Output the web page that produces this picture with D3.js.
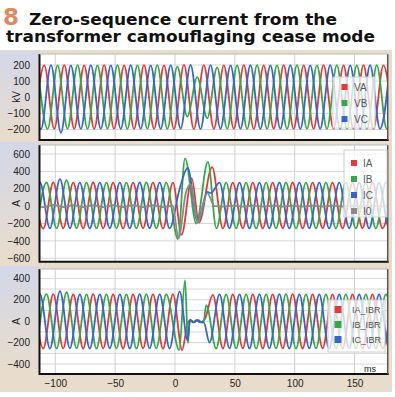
<!DOCTYPE html>
<html><head><meta charset="utf-8">
<script src="https://cdn.jsdelivr.net/npm/d3@7"></script>
<style>html,body{margin:0;padding:0;background:#fff;}svg{display:block;}</style>
</head><body>
<svg id="c" width="395" height="397"></svg>
<script>
// ---------- data (time in ms, value) : extremes ----------
const xTicks = [-100, -50, 0, 50, 100, 150];
const p1Ticks = [-200, -100, 0, 100, 200];
const p2Ticks = [-600, -400, -200, 0, 200, 400, 600];
const p3Ticks = [-400, -200, 0, 200, 400];
const p1Grid = [-200, -100, 0, 100, 200];
const p2Grid = [-600, -400, -200, 0, 200, 400, 600];
const p3Grid = [-400, -300, -200, -100, 0, 100, 200, 300, 400];

const VA = [[-117.5,-195],[-109.2,198],[-100.9,-196],[-92.5,199],[-84.2,-195],[-75.9,198],[-67.5,-196],[-59.2,199],[-50.9,-195],[-42.5,198],[-34.2,-196],[-25.9,199],[-17.5,-195],[-9.2,198],[-0.9,-196],[7.5,200],[15.8,-198],[24.1,199],[32.5,-196],[40.8,198],[49.1,-195],[57.5,199],[65.8,-196],[74.1,198],[82.5,-195],[90.8,199],[99.1,-196],[107.5,198],[115.8,-195],[124.1,199],[132.5,-196],[140.8,198],[149.1,-195],[157.5,199],[165.8,-196],[174.1,198],[182.5,-195]];
const VB = [[-114.8,197],[-106.4,-196],[-98.1,198],[-89.8,-195],[-81.4,199],[-73.1,-196],[-64.8,198],[-56.4,-195],[-48.1,199],[-39.8,-196],[-31.4,198],[-23.1,-195],[-14.8,199],[-6.4,-196],[1.9,190],[10.3,-120],[18.6,125],[26.9,-130],[35.2,185],[43.6,-195],[51.9,198],[60.3,-196],[68.6,199],[76.9,-195],[85.2,198],[93.6,-196],[101.9,199],[110.3,-195],[118.6,198],[126.9,-196],[135.2,199],[143.6,-195],[151.9,198],[160.3,-196],[168.6,199],[176.9,-195],[185.2,198]];
const VC = [[-120.3,197],[-112.0,-198],[-103.6,199],[-95.3,-220],[-87.0,198],[-78.7,-196],[-70.3,199],[-62.0,-195],[-53.6,198],[-45.3,-196],[-37.0,199],[-28.7,-195],[-20.3,198],[-12.0,-196],[-3.6,199],[4.7,-195],[13.0,200],[21.3,-197],[29.7,199],[38.0,-196],[46.4,198],[54.7,-195],[63.0,199],[71.3,-196],[79.7,198],[88.0,-195],[96.4,199],[104.7,-196],[113.0,198],[121.3,-195],[129.7,199],[138.0,-196],[146.4,198],[154.7,-195],[163.0,199],[171.3,-196],[179.7,198]];

const IA = [[-118.4,270],[-110.0,-258],[-101.7,272],[-93.4,-255],[-85.0,270],[-76.7,-256],[-68.4,272],[-60.0,-255],[-51.7,270],[-43.4,-257],[-35.0,271],[-26.7,-255],[-18.4,270],[-10.0,-256],[-1.7,270],[5.5,-330],[14.0,320],[20.0,-190],[31.0,450],[40.0,-256],[48.3,270],[56.6,-255],[65.0,271],[73.3,-256],[81.6,270],[90.0,-255],[98.3,272],[106.6,-256],[115.0,270],[123.3,-255],[131.6,271],[140.0,-256],[148.3,270],[156.6,-255],[165.0,271],[173.3,-256],[181.6,270]];
const IB = [[-115.6,-255],[-107.3,272],[-98.9,-256],[-90.6,300],[-82.2,-255],[-73.9,270],[-65.6,-256],[-57.3,271],[-48.9,-255],[-40.6,270],[-32.2,-256],[-23.9,272],[-15.6,-255],[-7.3,270],[2.5,-380],[8.4,550],[17.8,-200],[27.5,510],[34.6,-256],[42.7,270],[51.1,-255],[59.4,271],[67.8,-256],[76.1,270],[84.4,-255],[92.7,272],[101.1,-256],[109.4,270],[117.8,-255],[126.1,271],[134.4,-256],[142.7,270],[151.1,-255],[159.4,271],[167.8,-256],[176.1,270],[184.4,-255]];
const IC = [[-121.2,-255],[-112.8,272],[-104.5,-256],[-96.1,310],[-87.8,-255],[-79.5,270],[-71.2,-256],[-62.8,271],[-54.5,-255],[-46.1,270],[-37.8,-256],[-29.5,272],[-21.2,-255],[-12.8,270],[-4.5,-256],[3.9,200],[10.6,440],[19.0,-180],[27.0,165],[30.0,150],[37.2,270],[45.5,-255],[53.9,271],[62.2,-256],[70.5,270],[78.8,-255],[87.2,272],[95.5,-256],[103.9,270],[112.2,-255],[120.5,271],[128.8,-256],[137.2,270],[145.5,-255],[153.9,271],[162.2,-256],[170.5,270],[178.8,-255],[187.2,271]];
const I0 = [[-118.4,10],[-110.0,-12],[-101.7,14],[-93.4,-10],[-85.0,12],[-76.7,-12],[-68.4,10],[-60.0,-12],[-51.7,12],[-43.4,-10],[-35.0,12],[-26.7,-12],[-18.4,10],[-10.0,-12],[-2.0,5],[3.0,-370],[9.0,150],[13.0,250],[19.0,-180],[27.0,150],[33.0,0],[40.0,-5],[48.3,5],[56.6,-5],[65.0,5],[73.3,-5],[81.6,5],[90.0,-5],[98.3,5],[106.6,-5],[115.0,5],[123.3,-5],[131.6,5],[140.0,-5],[148.3,5],[156.6,-5],[165.0,5],[173.3,-5],[181.6,5]];

const IA_IBR = [[-118.4,250],[-110.0,-255],[-101.7,252],[-93.4,-254],[-85.0,250],[-76.7,-255],[-68.4,252],[-60.0,-254],[-51.7,250],[-43.4,-255],[-35.0,251],[-26.7,-254],[-18.4,250],[-10.0,-255],[-1.7,252],[6.0,-270],[10.5,-20],[13.0,10],[16.0,-10],[19.0,12],[22.0,-8],[25.0,20],[31.6,245],[40.0,-255],[48.3,250],[56.6,-254],[65.0,251],[73.3,-255],[81.6,250],[90.0,-254],[98.3,252],[106.6,-255],[115.0,250],[123.3,-254],[131.6,251],[140.0,-255],[148.3,250],[156.6,-254],[165.0,251],[173.3,-255],[181.6,250]];
const IB_IBR = [[-115.6,-254],[-107.3,252],[-98.9,-255],[-90.6,270],[-82.2,-254],[-73.9,250],[-65.6,-255],[-57.3,251],[-48.9,-254],[-40.6,250],[-32.2,-255],[-23.9,252],[-15.6,-254],[-7.3,250],[3.5,-270],[8.4,383],[10.8,-205],[12.5,15],[15.0,-10],[18.0,10],[21.0,-12],[24.0,5],[26.1,150],[34.4,-255],[42.7,250],[51.1,-254],[59.4,251],[67.8,-255],[76.1,250],[84.4,-254],[92.7,252],[101.1,-255],[109.4,250],[117.8,-254],[126.1,251],[134.4,-255],[142.7,250],[151.1,-254],[159.4,251],[167.8,-255],[176.1,250],[184.4,-254]];
const IC_IBR = [[-121.2,-254],[-112.8,252],[-104.5,-255],[-96.1,280],[-87.8,-254],[-79.5,250],[-71.2,-255],[-62.8,251],[-54.5,-254],[-46.1,250],[-37.8,-255],[-29.5,252],[-21.2,-254],[-12.8,250],[-4.5,-255],[3.9,275],[10.5,-180],[12.5,10],[15.5,-12],[18.5,8],[21.5,-10],[24.0,-10],[28.8,-200],[37.2,250],[45.5,-254],[53.9,251],[62.2,-255],[70.5,250],[78.8,-254],[87.2,252],[95.5,-255],[103.9,250],[112.2,-254],[120.5,251],[128.8,-255],[137.2,250],[145.5,-254],[153.9,251],[162.2,-255],[170.5,250],[178.8,-254],[187.2,251]];

// ---------- drawing ----------
const RED = "#e5383b", GREEN = "#35a84a", BLUE = "#3566c8", GREY = "#8a8a8a";
const BEIGE = "#e8ddcc", LAV = "#d3d7e8";
const svg = d3.select("#c");
const defs = svg.append("defs");
const grad = defs.append("linearGradient").attr("id", "lg").attr("x1", 0).attr("y1", 0).attr("x2", 0).attr("y2", 1);
grad.append("stop").attr("offset", "0%").attr("stop-color", LAV);
grad.append("stop").attr("offset", "100%").attr("stop-color", BEIGE);

// title
const title = svg.append("g");
title.append("text").attr("x", 3).attr("y", 25).text("8")
  .attr("font-family", "DejaVu Sans, Verdana, sans-serif").attr("font-weight", "bold")
  .attr("font-size", 23).attr("fill", "#e4875b");
title.append("text").attr("x", 29).attr("y", 24.5).text("Zero-sequence current from the")
  .attr("font-family", "DejaVu Sans, Verdana, sans-serif").attr("font-weight", "bold")
  .attr("font-size", 15).attr("fill", "#111").attr("textLength", 308).attr("lengthAdjust", "spacingAndGlyphs");
title.append("text").attr("x", 6).attr("y", 42).text("transformer camouflaging cease mode")
  .attr("font-family", "DejaVu Sans, Verdana, sans-serif").attr("font-weight", "bold")
  .attr("font-size", 15).attr("fill", "#111").attr("textLength", 369).attr("lengthAdjust", "spacingAndGlyphs");

// chart background
svg.append("rect").attr("x", 0).attr("y", 50).attr("width", 392).attr("height", 342).attr("fill", BEIGE);

const x = d3.scaleLinear().domain([-113.2, 177.7]).range([39.5, 387.7]);

const panels = [
  {top: 54, bottom: 140, domain: [-265, 268], ticks: p1Ticks, grid: p1Grid, unit: "kV",
   series: [["VA", VA, RED], ["VB", VB, GREEN], ["VC", VC, BLUE]],
   legend: {x: 333, y: 77, w: 42, h: 51, sx: 344.5, tx: 354, ys: [87, 103, 119], sq: 6, fs: 10}},
  {top: 145, bottom: 261.7, domain: [-640, 704], ticks: p2Ticks, grid: p2Grid, unit: "A",
   series: [["IA", IA, RED], ["IB", IB, GREEN], ["IC", IC, BLUE], ["I0", I0, GREY]],
   legend: {x: 344, y: 150, w: 43, h: 67, sx: 354, tx: 363, ys: [163, 179, 195, 211], sq: 6, fs: 10}},
  {top: 269, bottom: 374, domain: [-493, 487], ticks: p3Ticks, grid: p3Grid, unit: "A",
   series: [["IA_IBR", IA_IBR, RED], ["IB_IBR", IB_IBR, GREEN], ["IC_IBR", IC_IBR, BLUE]],
   legend: {x: 328, y: 300, w: 57, h: 52, sx: 338, tx: 352, ys: [309.5, 324.5, 339.5], sq: 7, fs: 9}}
];

panels.forEach((p, i) => {
  const y = d3.scaleLinear().domain(p.domain).range([p.bottom, p.top]);
  const g = svg.append("g");
  g.append("rect").attr("x", 0).attr("y", p.top - 3).attr("width", 39).attr("height", p.bottom - p.top + 4)
    .attr("fill", "url(#lg)");
  g.append("rect").attr("x", x.range()[0]).attr("y", p.top).attr("width", x.range()[1] - x.range()[0])
    .attr("height", p.bottom - p.top).attr("fill", "#fff");
  g.append("g").selectAll("line").data(p.grid).join("line")
    .attr("x1", x.range()[0]).attr("x2", x.range()[1]).attr("y1", d => y(d)).attr("y2", d => y(d))
    .attr("stroke", "#d6d6d6").attr("stroke-width", 1);
  g.append("g").selectAll("line").data(xTicks).join("line")
    .attr("x1", d => x(d)).attr("x2", d => x(d)).attr("y1", p.top).attr("y2", p.bottom)
    .attr("stroke", "#d0d0d0").attr("stroke-width", 1);
  const cid = "clip" + i;
  defs.append("clipPath").attr("id", cid).append("rect")
    .attr("x", x.range()[0]).attr("y", p.top).attr("width", x.range()[1] - x.range()[0]).attr("height", p.bottom - p.top);
  const line = d3.line().x(d => x(d[0])).y(d => y(d[1])).curve(d3.curveMonotoneX);
  const lg = g.append("g").attr("clip-path", `url(#${cid})`);
  p.series.forEach(s => {
    lg.append("path").attr("d", line(s[1])).attr("fill", "none").attr("stroke", s[2])
      .attr("stroke-width", 1.8).attr("stroke-linejoin", "round");
  });
  const ax = d3.axisLeft(y).tickValues(p.ticks).tickSize(0).tickPadding(0);
  const axg = g.append("g").attr("transform", "translate(30,0)").call(ax);
  axg.select(".domain").remove();
  axg.selectAll("text").attr("font-family", "Liberation Sans, Arial, sans-serif").attr("font-size", 10)
    .attr("fill", "#222").attr("text-anchor", "end").attr("x", 0);
  g.append("text").attr("transform", `translate(20,${(p.top + p.bottom) / 2}) rotate(-90)`)
    .attr("text-anchor", "middle").attr("font-family", "Liberation Sans, Arial, sans-serif")
    .attr("font-size", 10).attr("fill", "#222").text(p.unit);
  g.append("line").attr("x1", x.range()[0]).attr("x2", x.range()[0]).attr("y1", p.top).attr("y2", p.bottom + 1)
    .attr("stroke", "#111").attr("stroke-width", 2);
  g.append("line").attr("x1", x.range()[0]).attr("x2", x.range()[1] + 1).attr("y1", p.bottom).attr("y2", p.bottom)
    .attr("stroke", "#111").attr("stroke-width", 2);
  g.append("line").attr("x1", x.range()[1]).attr("x2", x.range()[1]).attr("y1", p.top).attr("y2", p.bottom)
    .attr("stroke", "#555").attr("stroke-width", 1.5);
  g.append("line").attr("x1", x.range()[0]).attr("x2", x.range()[1]).attr("y1", p.top).attr("y2", p.top)
    .attr("stroke", "#bbb").attr("stroke-width", 1);
  const L = p.legend;
  const leg = g.append("g");
  leg.append("rect").attr("x", L.x).attr("y", L.y).attr("width", L.w).attr("height", L.h)
    .attr("fill", "#fff").attr("fill-opacity", 0.75).attr("stroke", "#cfcfcf").attr("stroke-width", 1);
  p.series.forEach((s, k) => {
    leg.append("rect").attr("x", L.sx - L.sq / 2).attr("y", L.ys[k] - L.sq / 2).attr("width", L.sq).attr("height", L.sq)
      .attr("fill", s[2]);
    leg.append("text").attr("x", L.tx).attr("y", L.ys[k] + 3.5).text(s[0])
      .attr("font-family", "Liberation Sans, Arial, sans-serif").attr("font-size", L.fs).attr("fill", "#555");
  });
});

const xa = d3.axisBottom(x).tickValues(xTicks).tickSize(0).tickPadding(0);
const xg = svg.append("g").attr("transform", "translate(0,380)").call(xa);
xg.select(".domain").remove();
xg.selectAll("text").attr("font-family", "Liberation Sans, Arial, sans-serif").attr("font-size", 10)
  .attr("fill", "#222").attr("dy", "0.71em").attr("y", 0);
svg.append("text").attr("x", 370).attr("y", 371.5).attr("text-anchor", "middle")
  .attr("font-family", "Liberation Sans, Arial, sans-serif").attr("font-size", 9).attr("fill", "#222").text("ms");
</script>
</body></html>
